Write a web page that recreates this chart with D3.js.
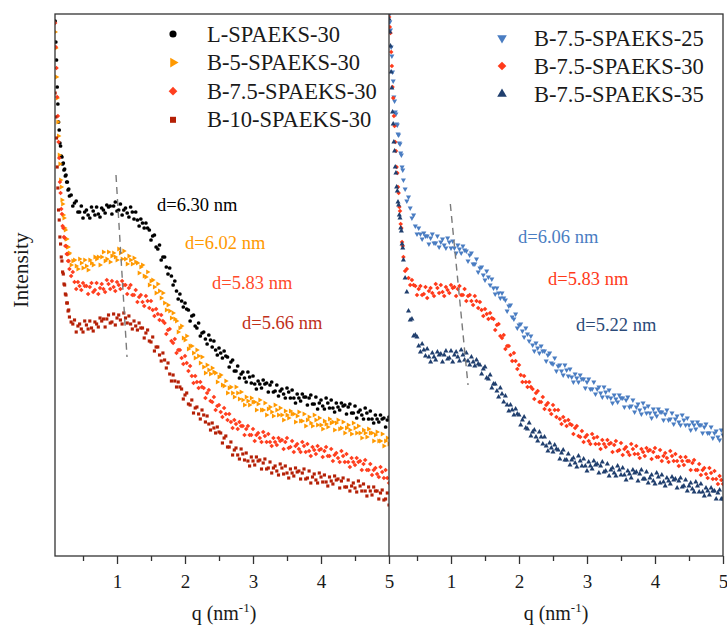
<!DOCTYPE html>
<html><head><meta charset="utf-8">
<script src="https://cdn.jsdelivr.net/npm/d3@7"></script>
<style>body{margin:0;background:#fff}</style>
</head><body>
<svg id="c" width="727" height="627"></svg>
<script>
// q values (nm^-1)
const q = [0.09,0.1,0.11,0.12,0.13,0.14,0.15,0.16,0.17,0.18,0.19,0.2,0.21,0.22,0.23,0.24,0.25,0.26,0.27,0.28,0.29,0.3,
0.325,0.35,0.375,0.4,0.425,0.45,0.475,0.5,0.525,0.55,0.575,0.6,0.625,0.65,0.675,0.7,0.725,0.75,0.775,0.8,0.825,0.85,0.875,0.9,0.925,0.95,0.975,1,
1.025,1.05,1.075,1.1,1.125,1.15,1.175,1.2,1.225,1.25,1.275,1.3,1.325,1.35,1.375,1.4,1.425,1.45,1.475,1.5,1.525,1.55,1.575,1.6,1.625,1.65,1.675,1.7,1.725,1.75,1.775,1.8,1.825,1.85,1.875,1.9,1.925,1.95,1.975,2,
2.025,2.05,2.075,2.1,2.125,2.15,2.175,2.2,2.225,2.25,2.275,2.3,2.325,2.35,2.375,2.4,2.425,2.45,2.475,2.5,2.525,2.55,2.575,2.6,2.625,2.65,2.675,2.7,2.725,2.75,2.775,2.8,2.825,2.85,2.875,2.9,2.925,2.95,2.975,3,
3.025,3.05,3.075,3.1,3.125,3.15,3.175,3.2,3.225,3.25,3.275,3.3,3.325,3.35,3.375,3.4,3.425,3.45,3.475,3.5,3.525,3.55,3.575,3.6,3.625,3.65,3.675,3.7,3.725,3.75,3.775,3.8,3.825,3.85,3.875,3.9,3.925,3.95,3.975,4,
4.025,4.05,4.075,4.1,4.125,4.15,4.175,4.2,4.225,4.25,4.275,4.3,4.325,4.35,4.375,4.4,4.425,4.45,4.475,4.5,4.525,4.55,4.575,4.6,4.625,4.65,4.675,4.7,4.725,4.75,4.775,4.8,4.825,4.85,4.875,4.9,4.925,4.95,4.975,5];

// Intensity (a.u.)
const L_SPAEKS_30 = [535,514,496,469,452,434,426,413,410,400,399,392,393,386,387,380,381,374,374,366,367,360,
361,350,353,355,344,344,350,338,344,346,341,338,349,345,341,349,342,339,348,346,343,351,349,350,342,350,354,345,346,352,
341,346,348,343,339,349,344,337,344,336,330,337,333,328,333,328,326,316,320,321,309,307,311,296,299,299,289,282,288,280,
271,275,265,257,262,255,249,253,247,246,235,240,241,230,228,233,220,223,224,217,212,221,216,209,215,206,201,208,203,198,
205,200,199,189,194,196,185,185,190,178,182,184,178,174,184,179,173,180,172,167,175,172,168,176,172,173,164,171,174,164,
165,171,160,165,167,162,158,168,164,158,166,158,153,162,158,155,162,159,159,151,158,161,152,152,159,147,153,156,150,147,
158,153,148,156,148,144,153,149,146,153,150,151,142,149,152,143,143,150,138,144,146,141,137,148,143,137,145,137,133,141,
137,134,141,137,138,129,136,139];
const B5_SPAEKS_30 = [524,508,479,458,434,420,401,392,376,369,356,352,341,338,328,326,317,317,309,309,302,303,
291,295,296,290,287,297,293,288,296,290,286,296,293,291,299,297,299,291,299,304,295,297,304,294,300,303,299,296,307,303,
297,305,297,292,300,296,292,298,294,293,283,289,291,280,279,284,271,275,276,269,263,272,265,258,263,253,246,251,245,238,
243,237,235,224,228,230,218,216,220,207,210,210,203,198,206,200,193,199,189,183,191,186,182,188,184,183,174,179,181,171,
170,175,163,168,169,163,159,169,163,157,164,156,151,159,155,151,158,154,154,146,152,156,146,146,153,141,147,149,144,140,
151,146,141,148,141,136,145,141,138,145,142,142,134,140,144,135,135,142,130,136,139,133,130,141,136,131,138,131,127,135,
132,129,137,133,134,126,133,136,127,128,134,123,128,131,126,122,133,128,123,130,123,118,126,123,119,127,123,123,115,121,
124,115,115,122,110,115,118,112];
const B75_SPAEKS_30_L = [533,509,488,459,440,414,398,374,363,347,342,330,328,319,318,310,310,302,302,295,295,287,
280,284,274,267,274,270,266,273,270,270,262,269,273,264,266,273,262,268,272,267,264,276,272,267,275,269,265,274,271,267,
275,271,271,262,268,271,261,261,266,254,259,261,254,250,260,255,248,255,246,240,247,242,236,241,235,233,222,226,227,215,
213,217,203,206,206,198,192,200,193,185,190,180,173,180,174,168,174,169,168,158,163,166,155,154,159,146,150,151,144,139,
148,142,136,142,134,128,136,132,127,134,130,130,121,127,130,121,121,127,115,121,123,118,114,124,120,114,122,114,110,118,
114,111,118,115,116,107,114,118,108,109,115,104,110,112,107,104,114,110,104,112,105,100,109,106,102,110,106,107,99,105,
109,100,100,107,95,101,103,98,94,105,100,94,102,94,89,98,94,91,98,94,95,86,92,96,86,86,92,81,86,88,
82,79,89,84,78,86,78,73];
const B10_SPAEKS_30 = [463,439,418,389,368,346,336,319,312,299,295,284,282,272,271,262,261,253,253,245,246,239,
234,232,236,224,230,232,227,224,235,231,227,235,228,225,234,232,229,238,235,237,229,237,241,233,234,242,231,238,241,236,
232,243,238,233,240,232,227,235,230,226,233,228,228,218,223,226,215,214,219,205,209,209,201,195,203,196,188,193,182,175,
181,175,169,174,169,167,157,161,163,152,151,156,143,148,149,142,137,146,141,134,140,132,126,133,128,123,129,124,123,113,
118,120,109,109,114,101,106,108,101,97,107,102,96,103,95,90,99,95,91,99,95,96,87,93,97,87,88,94,83,88,
90,85,81,92,88,82,90,83,78,87,83,80,88,84,85,77,83,87,77,78,85,73,79,82,76,73,83,79,74,81,
74,70,79,75,72,80,76,77,68,75,78,69,69,76,65,70,73,68,64,75,70,65,72,65,60,69,65,61,69,65,
65,57,63,66,56,57,63,51];
const B75_SPAEKS_25 = [541,534,526,509,500,484,475,459,455,444,442,432,431,422,421,413,412,403,401,389,386,376,
367,355,359,348,338,341,330,322,328,322,317,323,320,320,312,318,322,313,313,320,309,314,317,311,308,318,314,308,315,308,
303,311,307,303,310,306,305,295,301,303,292,292,297,284,288,289,281,276,285,279,271,277,268,262,268,263,258,263,258,256,
245,250,251,239,237,242,228,231,232,225,219,228,222,215,220,211,205,213,208,203,210,205,205,195,201,203,193,192,198,185,
190,191,185,181,191,186,180,187,179,174,182,178,174,181,177,177,168,174,177,167,167,174,162,167,169,163,159,169,164,159,
166,158,153,161,157,154,161,158,158,149,156,159,149,150,156,144,149,152,146,142,153,148,143,150,143,138,147,143,140,147,
144,144,136,142,146,136,137,143,132,137,140,134,131,141,136,131,138,131,126,134,131,127,134,131,131,123,129,132,123,123,
129,118,123,125,119,116,126,121];
const B75_SPAEKS_30_R = [539,529,523,504,490,469,458,440,430,414,405,389,383,369,363,349,345,332,328,314,310,299,
285,287,278,271,276,271,270,261,267,270,261,262,269,258,265,268,263,260,272,268,263,271,264,260,269,266,263,271,268,269,
260,267,270,261,261,267,255,260,261,255,251,260,255,248,254,246,240,247,242,237,243,238,237,226,231,232,220,218,221,207,
210,210,201,195,203,195,187,191,181,174,180,174,169,174,169,167,157,163,165,154,154,159,147,151,153,146,142,151,146,139,
146,137,132,139,135,130,136,132,131,122,128,130,120,119,125,114,119,121,115,112,122,118,112,119,112,107,116,112,109,116,
112,113,104,111,115,105,106,113,101,107,109,104,101,112,107,102,110,102,98,107,104,100,108,105,106,97,104,108,99,99,
106,95,100,103,98,94,105,100,95,102,95,90,99,95,91,99,95,95,86,93,96,86,86,92,81,86,88,82,78,88,
83,77,85,77,72,80,76,72];
const B75_SPAEKS_35 = [537,524,510,484,468,444,432,414,405,389,383,369,365,354,351,341,338,328,325,312,308,296,
278,264,245,236,237,220,221,219,210,204,212,206,200,207,199,194,203,199,196,204,201,202,194,201,205,197,198,205,194,201,
204,199,195,206,201,196,203,195,191,199,194,190,196,192,191,182,187,189,178,177,181,168,172,172,165,159,168,162,154,160,
151,145,151,146,141,147,142,141,131,136,139,128,127,133,120,124,126,119,115,124,119,112,119,110,105,113,108,104,111,107,
106,97,103,106,96,96,102,91,96,98,93,89,100,95,90,97,90,85,94,90,87,95,91,92,83,90,94,84,85,92,
80,86,88,83,80,90,86,81,88,81,76,85,82,78,86,83,84,75,82,86,77,77,84,73,78,81,75,72,83,79,
73,81,74,70,78,75,72,79,76,77,68,75,78,69,70,76,65,70,73,67,64,74,70,64,72,64,60,68,65,61,
68,65,65,57,63,66,57,57];

const leftNames = ["L-SPAEKS-30","B-5-SPAEKS-30","B-7.5-SPAEKS-30","B-10-SPAEKS-30"];
const rightNames = ["B-7.5-SPAEKS-25","B-7.5-SPAEKS-30","B-7.5-SPAEKS-35"];
const leftD = ["d=6.30 nm","d=6.02 nm","d=5.83 nm","d=5.66 nm"];
const rightD = ["d=6.06 nm","d=5.83 nm","d=5.22 nm"];
const xTicks = [1,2,3,4,5];
const xMinor = [0.5,1.5,2.5,3.5,4.5];
// guide line through the peaks: [q, intensity]
const peakGuideL = [[0.985,381],[1.147,199]];
const peakGuideR = [[0.99,352],[1.25,171]];

const FONT = "'Liberation Serif','Times New Roman',serif";
const svg = d3.select("#c");
const TOP = 14, BOT = 556;
const y = d3.scaleLinear().domain([0,542]).range([BOT,TOP]);

const sym = {
  circle:{type:d3.symbolCircle, rot:0, k:1.0},
  tright:{type:d3.symbolTriangle, rot:90, k:1.0},
  diamond:{type:d3.symbolSquare, rot:45, k:0.95},
  square:{type:d3.symbolSquare, rot:0, k:0.9},
  tdown:{type:d3.symbolTriangle, rot:180, k:1.0},
  tup:{type:d3.symbolTriangle, rot:0, k:1.0}
};

const panels = [
  {x0:55, x1:389, id:"L",
   series:[
     {name:leftNames[0], v:L_SPAEKS_30, color:"#000000", s:"circle"},
     {name:leftNames[1], v:B5_SPAEKS_30, color:"#FF9900", s:"tright"},
     {name:leftNames[2], v:B75_SPAEKS_30_L, color:"#FF3F1F", s:"diamond"},
     {name:leftNames[3], v:B10_SPAEKS_30, color:"#B52006", s:"square"}],
   guide:peakGuideL,
   legend:{mx:173, tx:207, y0:34, dy:28.6},
   ann:[{t:leftD[0],x:157,y:211,c:"#000000"},{t:leftD[1],x:185,y:249,c:"#FF9900"},
        {t:leftD[2],x:212,y:289,c:"#FF4A2A"},{t:leftD[3],x:242,y:329,c:"#C0301A"}],
   titleX:224},
  {x0:389, x1:723, id:"R",
   series:[
     {name:rightNames[0], v:B75_SPAEKS_25, color:"#4A7DC2", s:"tdown"},
     {name:rightNames[1], v:B75_SPAEKS_30_R, color:"#FF3A1A", s:"diamond"},
     {name:rightNames[2], v:B75_SPAEKS_35, color:"#203F6E", s:"tup"}],
   guide:peakGuideR,
   legend:{mx:502, tx:534, y0:38, dy:28},
   ann:[{t:rightD[0],x:518,y:243,c:"#4A7DC2"},{t:rightD[1],x:548,y:285,c:"#FF3A1A"},
        {t:rightD[2],x:576,y:331,c:"#2B4A78"}],
   titleX:556}
];

const defs = svg.append("defs");

panels.forEach(p => {
  const x = d3.scaleLinear().domain([0.088,5]).range([p.x0,p.x1]);
  defs.append("clipPath").attr("id","clip"+p.id)
    .append("rect").attr("x",p.x0).attr("y",TOP).attr("width",p.x1-p.x0).attr("height",BOT-TOP);
  const g = svg.append("g").attr("clip-path",`url(#clip${p.id})`);
  p.series.forEach(s => {
    const st = sym[s.s];
    const path = d3.symbol().type(st.type).size(11*st.k)();
    const data = q.map((qq,i)=>({q:qq, v:s.v[i]})).filter(d=>d.v!=null);
    g.append("g").selectAll("path").data(data).join("path")
      .attr("d",path)
      .attr("transform",d=>`translate(${x(d.q)},${y(d.v)}) rotate(${st.rot})`)
      .attr("fill",s.color);
  });
  // guide dashed line
  svg.append("line")
    .attr("x1",x(p.guide[0][0])).attr("y1",y(p.guide[0][1]))
    .attr("x2",x(p.guide[1][0])).attr("y2",y(p.guide[1][1]))
    .attr("stroke","#7a7a7a").attr("stroke-width",1.4).attr("stroke-dasharray","7,5");
  // axes
  const ax = svg.append("g").attr("transform",`translate(0,${BOT})`)
    .call(d3.axisBottom(x).tickValues(xTicks).tickSize(8).tickPadding(11).tickFormat(d3.format("d")));
  ax.select(".domain").remove();
  ax.selectAll("line").attr("stroke","#333").attr("stroke-width",1.3);
  ax.selectAll("text").attr("font-family",FONT).attr("font-size",19).attr("fill","#1a1a1a");
  const axm = svg.append("g").attr("transform",`translate(0,${BOT})`)
    .call(d3.axisBottom(x).tickValues(xMinor).tickSize(5).tickFormat(""));
  axm.select(".domain").remove();
  axm.selectAll("line").attr("stroke","#333").attr("stroke-width",1.3);
  // x title
  const t = svg.append("text").attr("x",p.titleX).attr("y",620).attr("text-anchor","middle")
    .attr("font-family",FONT).attr("font-size",20).attr("fill","#1a1a1a");
  t.append("tspan").text("q (nm");
  t.append("tspan").text("-1").attr("font-size",13).attr("dy",-8);
  t.append("tspan").text(")").attr("dy",8);
  // legend
  p.series.forEach((s,i) => {
    const st = sym[s.s];
    const cy = p.legend.y0 + i*p.legend.dy;
    svg.append("path").attr("d",d3.symbol().type(st.type).size(40*st.k)())
      .attr("transform",`translate(${p.legend.mx},${cy}) rotate(${st.rot})`)
      .attr("fill",s.color);
    svg.append("text").attr("x",p.legend.tx).attr("y",cy+7.5)
      .attr("font-family",FONT).attr("font-size",22.5).attr("fill","#1a1a1a").text(s.name);
  });
  // annotations
  p.ann.forEach(a => {
    svg.append("text").attr("x",a.x).attr("y",a.y).attr("font-family",FONT)
      .attr("font-size",18.5).attr("fill",a.c).text(a.t);
  });
});

// frame
svg.append("rect").attr("x",55).attr("y",TOP).attr("width",723-55).attr("height",BOT-TOP)
  .attr("fill","none").attr("stroke","#333").attr("stroke-width",1.3);
svg.append("line").attr("x1",389).attr("x2",389).attr("y1",TOP).attr("y2",BOT)
  .attr("stroke","#333").attr("stroke-width",1.3);

// y title
svg.append("text").attr("transform","translate(28,270) rotate(-90)").attr("text-anchor","middle")
  .attr("font-family",FONT).attr("font-size",21.5).attr("fill","#1a1a1a").text("Intensity");
</script>
</body></html>
